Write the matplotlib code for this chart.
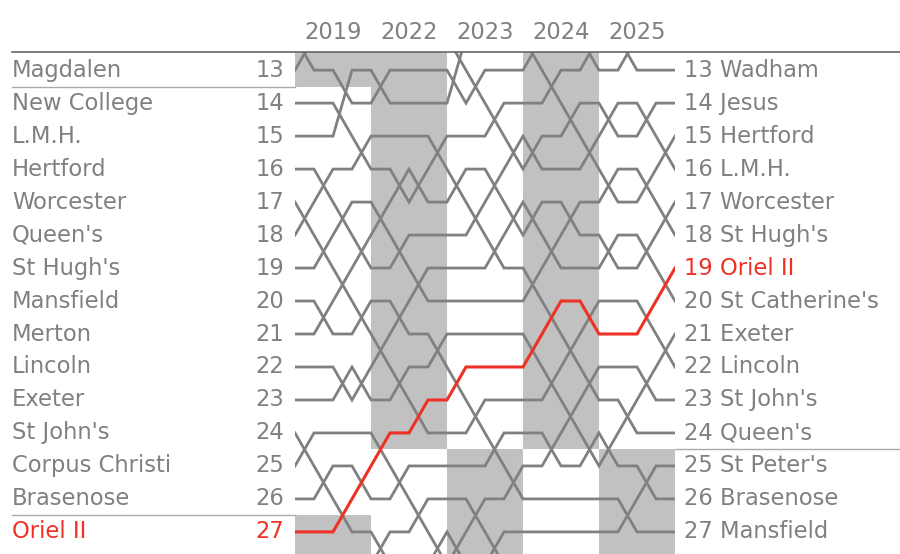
import matplotlib.pyplot as plt
from matplotlib.patches import Rectangle

years = ["2019", "2022", "2023", "2024", "2025"]
days_per_year = 4

left_names = ["Magdalen", "New College", "L.M.H.", "Hertford", "Worcester", "Queen's",
              "St Hugh's", "Mansfield", "Merton", "Lincoln", "Exeter", "St John's",
              "Corpus Christi", "Brasenose", "Oriel II"]
right_names = ["Wadham", "Jesus", "Hertford", "L.M.H.", "Worcester", "St Hugh's",
               "Oriel II", "St Catherine's", "Exeter", "Lincoln", "St John's", "Queen's",
               "St Peter's", "Brasenose", "Mansfield"]
first_pos = 13
highlight = "Oriel II"

# per day: (from, to) position of each crew that went up; the crews in between drop one
day_moves = [
    [(13, 12), (18, 17), (25, 24)],
    [(17, 16), (19, 18), (21, 20), (26, 25)],
    [(15, 13), (18, 17), (20, 19), (23, 22), (27, 26)],
    [(16, 15), (19, 18), (21, 20), (23, 22), (26, 25)],
    [(14, 13), (18, 17), (22, 21), (25, 24), (28, 27)],
    [(17, 16), (19, 18), (21, 20), (23, 22), (26, 25)],
    [(17, 16), (20, 19), (24, 23), (27, 26)],
    [(16, 15), (22, 21), (28, 27)],
    [(14, 12), (17, 16), (23, 22), (28, 27)],
    [(14, 13), (18, 17), (24, 23), (27, 26)],
    [(15, 14), (17, 16), (19, 18), (25, 24), (28, 27)],
    [(16, 15), (18, 17), (26, 25)],
    [(13, 12), (16, 15), (18, 17), (20, 19), (22, 21)],
    [(14, 13), (19, 18), (21, 20), (23, 22), (25, 24)],
    [(15, 14), (18, 17), (22, 21), (24, 23)],
    [(13, 12), (16, 15), (21, 20), (23, 22), (25, 24)],
    [(15, 14), (17, 16), (19, 18), (25, 24)],
    [(13, 12), (24, 23), (27, 26)],
    [(15, 14), (17, 16), (19, 18), (21, 20), (23, 22), (26, 25)],
    [(16, 15), (18, 17), (20, 19), (22, 21)],
]

# shaded divisions per year (top, bottom position)
shaded = [[(11, 13.5), (26.5, 30)], [(11, 24.5)], [(24.5, 30)], [(11, 24.5)], [(24.5, 30)]]
left_breaks = [13.5, 26.5]
right_breaks = [24.5]

# ---------------- positions ----------------
top_pos = 8
order = (["above %d" % p for p in range(top_pos, first_pos)] + left_names
         + ["below %d" % p for p in range(first_pos + len(left_names), 36)])

track = {c: [i + top_pos] for i, c in enumerate(order)}
for moves in day_moves:
    for a, b in moves:
        crew = order.pop(a - top_pos)
        order.insert(b - top_pos, crew)
    for i, c in enumerate(order):
        track[c].append(i + top_pos)

# ---------------- plot ----------------
grey = "#808080"
red = "#ee3124"
fs = 16.3
ndays = len(day_moves)
x_left, x_right = -14.9, 31.85   # figure edges in day units

fig = plt.figure(figsize=(9, 5.54), dpi=100)
ax = fig.add_axes([295 / 900, 0, 380 / 900, 502 / 554])
ax.set_xlim(0, ndays)
ax.set_ylim(27.67, 12.45)
ax.axis("off")

for i, spans in enumerate(shaded):
    for top, bot in spans:
        ax.add_patch(Rectangle((i * days_per_year, top), days_per_year, bot - top,
                               color="#c1c1c1", lw=0, zorder=0))

days = list(range(ndays + 1))
for c, ys in track.items():
    if c == highlight:
        continue
    ax.plot(days, ys, color=grey, lw=2.0, solid_joinstyle="miter", zorder=2)
ax.plot(days, track[highlight], color=red, lw=2.2, solid_joinstyle="miter", zorder=3)

for i, y in enumerate(years):
    ax.text(i * days_per_year + 2, 11.87, y, ha="center", va="center",
            fontsize=fs, color=grey, clip_on=False)

for i, name in enumerate(left_names):
    p = first_pos + i
    col = red if name == highlight else grey
    ax.text(x_left, p, name, ha="left", va="center", fontsize=fs, color=col, clip_on=False)
    ax.text(-0.55, p, str(p), ha="right", va="center", fontsize=fs, color=col, clip_on=False)

for i, name in enumerate(right_names):
    p = first_pos + i
    col = red if name == highlight else grey
    ax.text(20.47, p, "%d %s" % (p, name), ha="left", va="center", fontsize=fs,
            color=col, clip_on=False)

ax.plot([x_left, x_right], [12.45, 12.45], color="#666666", lw=1.2, clip_on=False)
for b in left_breaks:
    ax.plot([x_left, 0], [b, b], color="#aaaaaa", lw=1, clip_on=False)
for b in right_breaks:
    ax.plot([ndays, x_right], [b, b], color="#aaaaaa", lw=1, clip_on=False)

fig.savefig("out.png", dpi=100)
